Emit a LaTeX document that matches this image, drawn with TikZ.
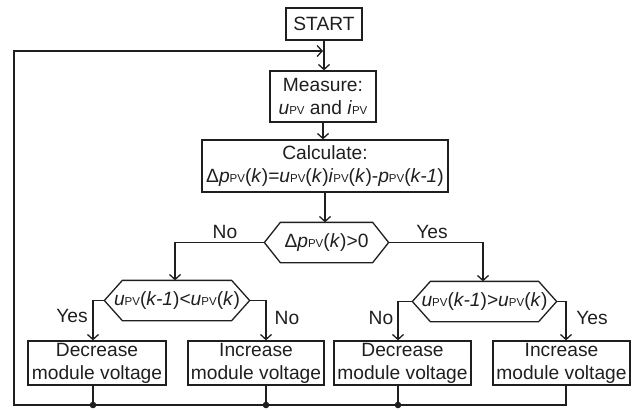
\documentclass[tikz,border=0pt]{standalone}
\usepackage{fontspec}
\setmainfont{Liberation Sans}
\usetikzlibrary{arrows.meta}
\newcommand{\pvs}{{\fontsize{11.5pt}{11.5pt}\selectfont PV}}
\newcommand{\vi}[1]{\textit{#1}}
\begin{document}
\begin{tikzpicture}[x=1pt,y=-1pt, line width=1.3pt, color=black!88,
  every node/.style={font=\fontsize{19.2pt}{23pt}\selectfont},
  box/.style={draw, rectangle, inner sep=0pt, align=center},
  hexn/.style={inner sep=0pt, align=center},
  arr/.style={-{Straight Barb[length=5pt,width=11pt]}},
  lab/.style={inner sep=0pt}]
\useasboundingbox (0,0) rectangle (638,410);

% process boxes
\node[box, minimum width=76, minimum height=32] (start) at (324,24) {START};
\node[box, minimum width=106, minimum height=51] (meas) at (323,96.5)
  {Measure:\\ \vi{u}\pvs{} and \vi{i}\pvs};
\node[box, minimum width=246, minimum height=52] (calc) at (325,166)
  {Calculate:\\ Δ\vi{p}\pvs(\vi{k})=\vi{u}\pvs(\vi{k})\vi{i}\pvs(\vi{k})-\vi{p}\pvs(\vi{k-1})};

% decisions
\node[hexn, minimum width=123, minimum height=39] (d0) at (326.5,242.5)
  {Δ\vi{p}\pvs(\vi{k})>0};
\draw (d0.west) -- ([xshift=16]d0.north west) -- ([xshift=-16]d0.north east) -- (d0.east)
  -- ([xshift=-16]d0.south east) -- ([xshift=16]d0.south west) -- cycle;
\node[hexn, minimum width=144, minimum height=39] (dl) at (177,300.5)
  {\vi{u}\pvs(\vi{k-1})<\vi{u}\pvs(\vi{k})};
\draw (dl.west) -- ([xshift=18]dl.north west) -- ([xshift=-18]dl.north east) -- (dl.east)
  -- ([xshift=-18]dl.south east) -- ([xshift=18]dl.south west) -- cycle;
\node[hexn, minimum width=143, minimum height=39] (dr) at (484.5,301.5)
  {\vi{u}\pvs(\vi{k-1})>\vi{u}\pvs(\vi{k})};
\draw (dr.west) -- ([xshift=18]dr.north west) -- ([xshift=-18]dr.north east) -- (dr.east)
  -- ([xshift=-18]dr.south east) -- ([xshift=18]dr.south west) -- cycle;

% action boxes
\node[box, minimum width=138, minimum height=44] (b1) at (97,363) {Decrease\\module voltage};
\node[box, minimum width=136, minimum height=44] (b2) at (256,363) {Increase\\module voltage};
\node[box, minimum width=137, minimum height=44] (b3) at (402.5,363) {Decrease\\module voltage};
\node[box, minimum width=137, minimum height=44] (b4) at (561.5,363) {Increase\\module voltage};

% labels
\node[lab] (l0n) at (225,232) {No};
\node[lab] (l0y) at (432,232) {Yes};
\node[lab] (l1y) at (72,316) {Yes};
\node[lab] (l1n) at (287,318) {No};
\node[lab] (l2n) at (381,318) {No};
\node[lab] (l2y) at (592,318) {Yes};

% connectors
\coordinate (bl) at (14,405);
\coordinate (top) at (323,51);
\draw[arr] (start.south) -- (start.south |- meas.north);
\draw[arr] (meas.south) -- (meas.south |- calc.north);
\draw[arr] (calc.south) -- (calc.south |- d0.north);
\draw[arr] (d0.west) -| ([xshift=-2]dl.north);
\draw[arr] (d0.east) -| ([xshift=-1.5]dr.north);
\draw[arr] (dl.west) -| ([xshift=-4]b1.north);
\draw[arr] (dl.east) -| ([xshift=10]b2.north);
\draw[arr] (dr.west) -| ([xshift=-4.5]b3.north);
\draw[arr] (dr.east) -| ([xshift=4.5]b4.north);
\draw[arr] ([xshift=4.5]b4.south) |- (bl) |- (top);
\draw ([xshift=-4]b1.south) -- ([xshift=-4]b1.south |- bl);
\draw ([xshift=10]b2.south) -- ([xshift=10]b2.south |- bl);
\draw ([xshift=-4.5]b3.south) -- ([xshift=-4.5]b3.south |- bl);
\fill ([xshift=-4]b1.south |- bl) circle (3.3);
\fill ([xshift=10]b2.south |- bl) circle (3.3);
\fill ([xshift=-4.5]b3.south |- bl) circle (3.3);
\end{tikzpicture}
\end{document}
